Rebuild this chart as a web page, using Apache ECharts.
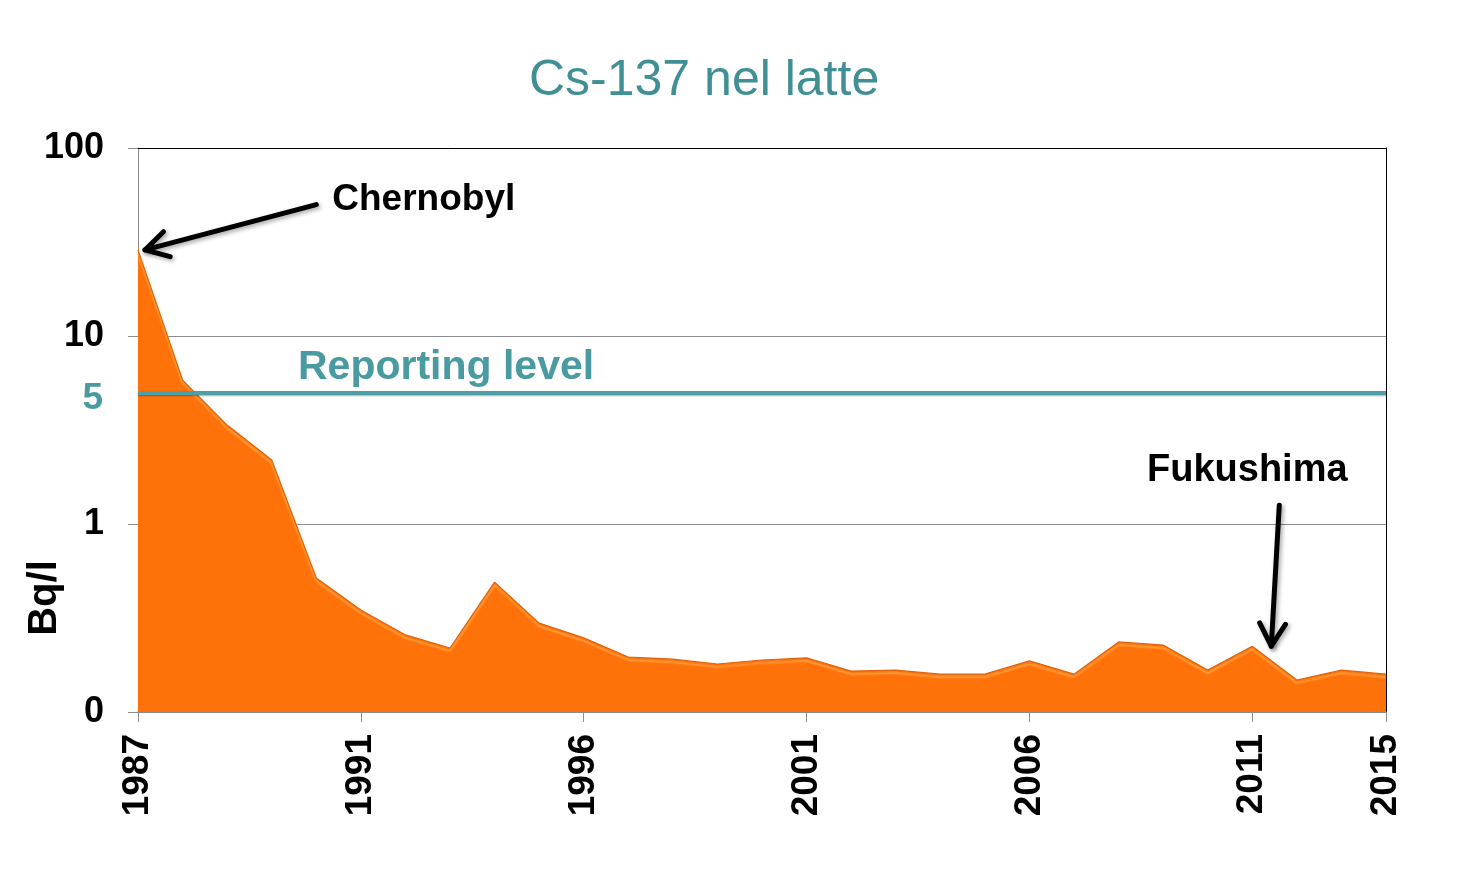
<!DOCTYPE html>
<html><head><meta charset="utf-8">
<script src="https://cdn.jsdelivr.net/npm/echarts@6/dist/echarts.min.js"></script>
<style>html,body{margin:0;padding:0;background:#fff}#c{width:1473px;height:870px}</style>
</head><body><div id="c"></div>
<script>
// ---- data ----
const categories = ['1987','1988','1989','1990','1991','1992','1993','1994','1995','1996',
  '1997','1998','1999','2000','2001','2002','2003','2004','2005','2006',
  '2007','2008','2009','2010','2011','2012','2013','2014','2015'];
const cs137 = [28.7, 5.83, 3.36, 2.19, 0.516, 0.349, 0.257, 0.219, 0.491, 0.297,
  0.248, 0.196, 0.191, 0.180, 0.189, 0.194, 0.165, 0.167, 0.159, 0.159,
  0.187, 0.159, 0.236, 0.227, 0.167, 0.224, 0.148, 0.167, 0.159];
const xTickIndex = [0, 5, 10, 15, 20, 25, 28];
const xTickLabels = ['1987', '1991', '1996', '2001', '2006', '2011', '2015'];
const yTicks = [0.1, 1, 10, 100];
const yTickLabels = ['0', '1', '10', '100'];
const reportingLevel = 5;
const titleText = 'Cs-137 nel latte';
const yName = 'Bq/l';

const FONT = 'Liberation Sans, Arial, sans-serif';
const TEAL = '#3F8F94';
const GRAY = '#8c8c8c';
const chart = echarts.init(document.getElementById('c'), null, {renderer: 'canvas'});

const option = {
  animation: false,
  backgroundColor: '#fff',
  title: {
    text: titleText, left: 524, top: 51,
    textStyle: {color: TEAL, fontSize: 50, fontWeight: 'normal', fontFamily: FONT}
  },
  grid: {left: 138, right: 87, top: 148, bottom: 158, show: false},
  xAxis: [{
    type: 'category', data: categories, boundaryGap: false,
    axisLine: {lineStyle: {color: GRAY, width: 1.5}},
    axisTick: {show: true, length: 10, interval: (i) => xTickIndex.includes(i), lineStyle: {color: GRAY}},
    axisLabel: {
      interval: (i) => xTickIndex.includes(i), rotate: 90, margin: 22,
      formatter: (v, i) => { const k = xTickIndex.indexOf(i); return k >= 0 ? xTickLabels[k] : ''; },
      color: '#000', fontSize: 37, fontWeight: 'bold', fontFamily: FONT
    },
    splitLine: {show: false}
  }, {
    type: 'category', data: categories, boundaryGap: false, position: 'top',
    axisLine: {show: true, lineStyle: {color: '#000', width: 1}},
    axisTick: {show: false}, axisLabel: {show: false}, splitLine: {show: false}
  }],
  yAxis: [{
    type: 'log', logBase: 10, min: 0.1, max: 100,
    axisLine: {show: true, lineStyle: {color: GRAY}},
    axisTick: {show: true, length: 10, lineStyle: {color: GRAY}},
    axisLabel: {
      margin: 34, color: '#000', fontSize: 36, fontWeight: 'bold', fontFamily: FONT,
      formatter: (v) => {
        const k = yTicks.findIndex(t => Math.abs(Math.log10(t) - Math.log10(v)) < 0.01);
        return k >= 0 ? yTickLabels[k] : '';
      }
    },
    splitLine: {show: true, lineStyle: {color: [GRAY, GRAY, GRAY, 'rgba(0,0,0,0)'], width: 1}}
  }, {
    type: 'log', logBase: 10, min: 0.1, max: 100, position: 'right',
    axisLine: {show: true, lineStyle: {color: '#000', width: 1}},
    axisTick: {show: false}, axisLabel: {show: false}, splitLine: {show: false}
  }],
  series: [{
    type: 'line', data: cs137, symbol: 'none', smooth: false, z: 3,
    lineStyle: {color: '#E0620A', width: 1.2, shadowColor: 'rgba(255,185,90,1)', shadowBlur: 2, shadowOffsetY: 3},
    areaStyle: {color: '#FF7109', opacity: 1, origin: 'start'},
    markLine: {
      silent: true, symbol: 'none', animation: false,
      data: [{yAxis: reportingLevel}],
      lineStyle: {color: '#4E9FA5', width: 4, type: 'solid', opacity: 1, shadowColor: 'rgba(0,0,0,0.35)', shadowBlur: 2, shadowOffsetY: 1},
      label: {show: false}
    }
  }]
};
chart.setOption(option);

const p = (i, v) => chart.convertToPixel({gridIndex: 0}, [categories[i], v]);
function arrow(tail, tip) {
  const dx = tail[0] - tip[0], dy = tail[1] - tip[1];
  const a = Math.atan2(dy, dx), L = 26, s = 0.52;
  const arm1 = [tip[0] + L * Math.cos(a + s), tip[1] + L * Math.sin(a + s)];
  const arm2 = [tip[0] + L * Math.cos(a - s), tip[1] + L * Math.sin(a - s)];
  const style = {stroke: '#000', lineWidth: 5, lineCap: 'round', lineJoin: 'round', fill: null,
    shadowColor: 'rgba(0,0,0,0.35)', shadowBlur: 4, shadowOffsetX: 2, shadowOffsetY: 2};
  return [
    {type: 'polyline', shape: {points: [tail, tip]}, style: style, z: 100},
    {type: 'polyline', shape: {points: [arm1, tip, arm2]}, style: style, z: 100}
  ];
}
const g = [];
// Chernobyl
const cTip = p(0, cs137[0]); cTip[0] += 7;
const cTail = p(4, 50);
g.push(...arrow(cTail, cTip));
g.push({type: 'text', x: cTail[0] + 16, y: cTail[1] - 5, z: 100,
  style: {text: 'Chernobyl', fill: '#000', font: 'bold 37px ' + FONT, align: 'left', verticalAlign: 'middle'}});
// Fukushima
const fTip = p(25, cs137[25]); fTip[0] += 19;
const fTail = p(25, 1.26); fTail[0] += 27;
g.push(...arrow(fTail, fTip));
const fText = p(25, 1.96);
g.push({type: 'text', x: fText[0] - 5, y: fText[1] + 1, z: 100,
  style: {text: 'Fukushima', fill: '#000', font: 'bold 38px ' + FONT, align: 'center', verticalAlign: 'middle'}});
// Reporting level
const rl = p(0, 6.92);
g.push({type: 'text', x: rl[0] + 160, y: rl[1] + 2, z: 100,
  style: {text: 'Reporting level', fill: '#4A9BA1', font: 'bold 41px ' + FONT, align: 'left', verticalAlign: 'middle'}});
const r5 = p(0, reportingLevel);
g.push({type: 'text', x: r5[0] - 35, y: r5[1] + 6, z: 100,
  style: {text: String(reportingLevel), fill: '#4A9BA1', font: 'bold 37px ' + FONT, align: 'right', verticalAlign: 'middle'}});
// y axis name
const yn = p(0, 0.404);
g.push({type: 'text', x: yn[0] - 93, y: yn[1], rotation: Math.PI / 2, z: 100,
  style: {text: yName, fill: '#000', font: 'bold 40px ' + FONT, align: 'center', verticalAlign: 'middle'}});
chart.setOption({graphic: g});
</script>
</body></html>
